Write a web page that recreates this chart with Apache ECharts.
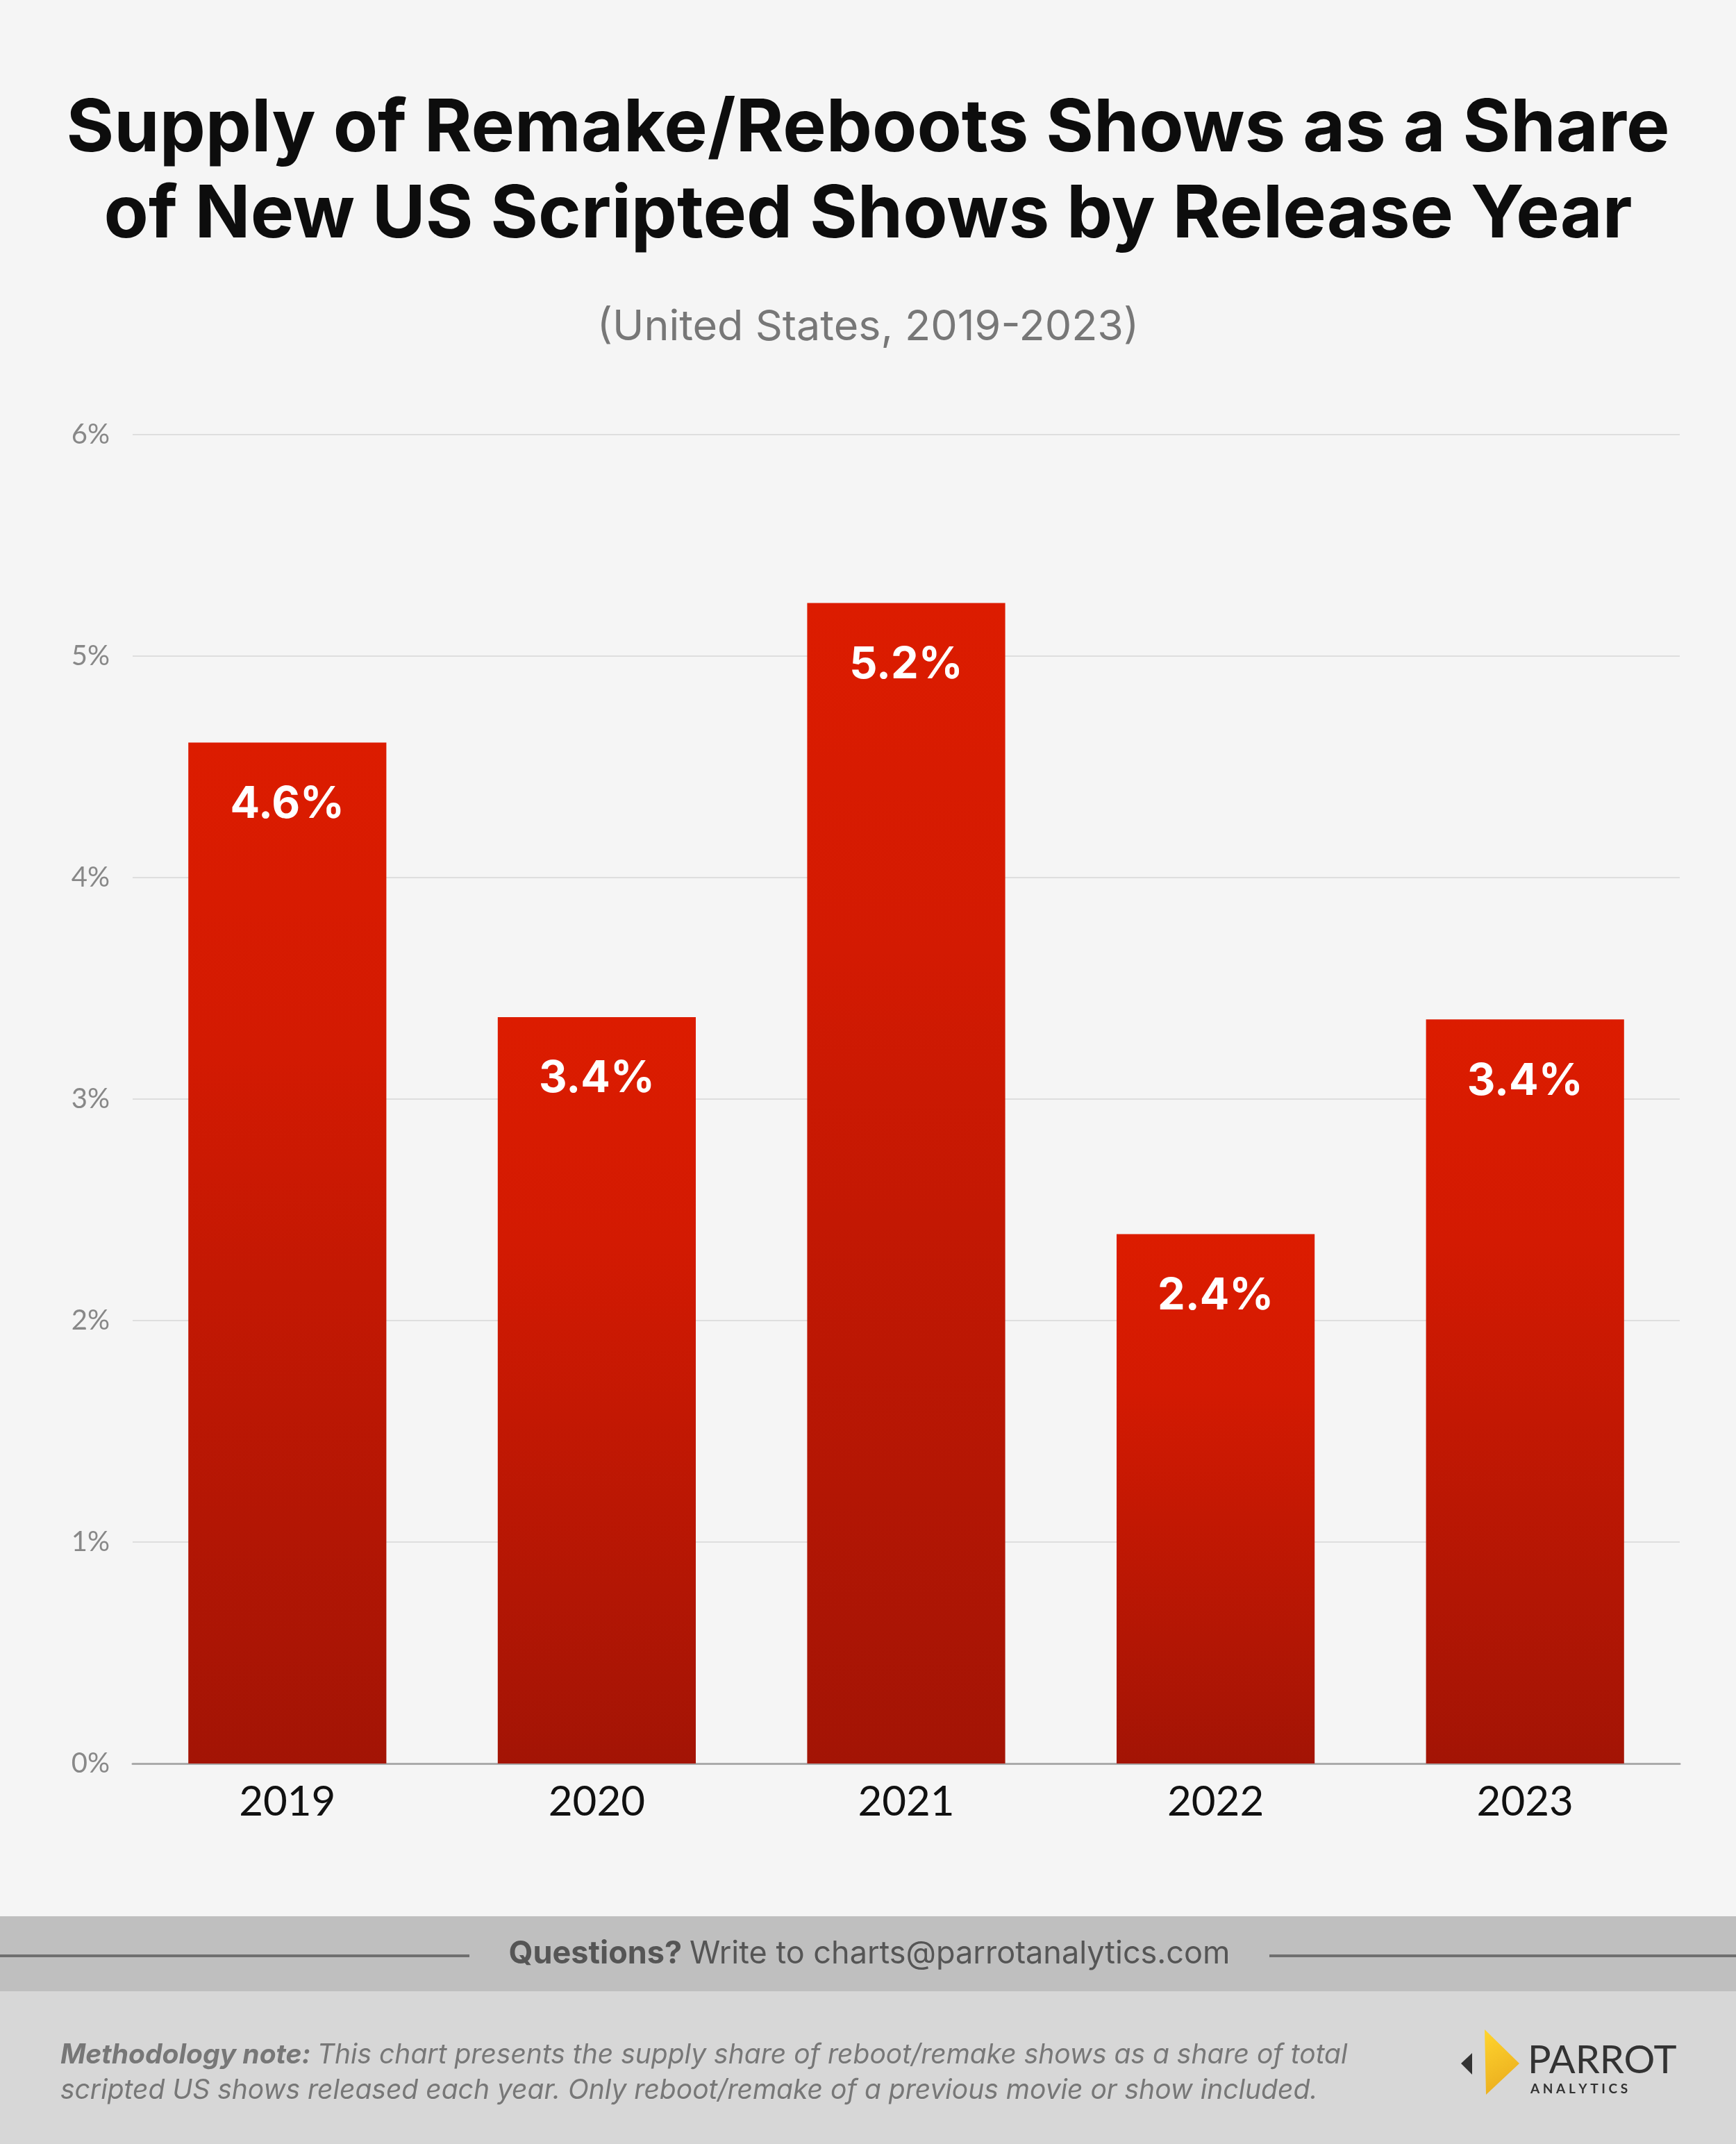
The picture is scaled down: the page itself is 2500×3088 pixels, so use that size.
<!DOCTYPE html>
<html>
<head>
<meta charset="utf-8">
<script src="https://cdn.jsdelivr.net/npm/echarts@6/dist/echarts.min.js"></script>
<style>
html,body{margin:0;padding:0;background:#f5f5f5;}
#chart{width:2500px;height:3088px;}
</style>
</head>
<body>
<div id="chart"></div>
<script>
var categories = ['2019', '2020', '2021', '2022', '2023'];
var shareValues = [4.61, 3.37, 5.24, 2.39, 3.36];
var yTicks = [0, 1, 2, 3, 4, 5, 6];

var titleText = 'Supply of Remake/Reboots Shows as a Share\nof New US Scripted Shows by Release Year';
var subtitleText = '(United States, 2019-2023)';

var FONT = 'Lato, "Open Sans", sans-serif';
var WIDE = 'Inter, "Open Sans", sans-serif';

var chart = echarts.init(document.getElementById('chart'), null, {renderer: 'canvas'});

var barGradient = new echarts.graphic.LinearGradient(0, 0, 0, 1, [
  {offset: 0, color: '#dc1c00'},
  {offset: 0.3, color: '#d31a02'},
  {offset: 1, color: '#a31405'}
]);

var logoGradient = new echarts.graphic.LinearGradient(0, 0, 1, 1, [
  {offset: 0, color: '#ffd52e'},
  {offset: 1, color: '#e8a81c'}
]);

var option = {
  backgroundColor: '#f5f5f5',
  animation: false,
  title: [
    {
      text: titleText,
      left: 'center',
      top: 119,
      textStyle: {
        fontFamily: WIDE,
        fontSize: 105,
        fontWeight: 'bold',
        color: '#0d0d0d',
        lineHeight: 124
      }
    },
    {
      text: subtitleText,
      left: 'center',
      top: 436,
      textStyle: {
        fontFamily: WIDE,
        fontSize: 61,
        fontWeight: 'normal',
        color: '#777777'
      }
    }
  ],
  grid: {
    left: 191,
    right: 81,
    top: 626,
    bottom: 548,
    containLabel: false
  },
  xAxis: {
    type: 'category',
    data: categories,
    axisLine: {show: true, lineStyle: {color: '#aaaaaa', width: 3}},
    axisTick: {show: false},
    axisLabel: {
      fontFamily: FONT,
      fontSize: 60,
      color: '#111111',
      margin: 26
    }
  },
  yAxis: {
    type: 'value',
    min: yTicks[0],
    max: yTicks[yTicks.length - 1],
    interval: 1,
    axisLine: {show: false},
    axisTick: {show: false},
    splitLine: {lineStyle: {color: '#dedede', width: 2}},
    axisLabel: {
      fontFamily: FONT,
      fontSize: 40,
      color: '#888888',
      margin: 33,
      formatter: function (v) { return v + '%'; }
    }
  },
  series: [{
    type: 'bar',
    data: shareValues,
    barWidth: '64%',
    itemStyle: {color: barGradient},
    label: {
      show: true,
      position: 'insideTop',
      distance: 58,
      fontFamily: WIDE,
      fontSize: 63,
      fontWeight: 'bold',
      color: '#ffffff',
      formatter: function (p) { return p.value.toFixed(1) + '%'; }
    }
  }],
  graphic: [
    {type: 'rect', z: 0, shape: {x: 0, y: 2760, width: 2500, height: 108}, style: {fill: '#bfbfbf'}},
    {type: 'rect', z: 0, shape: {x: 0, y: 2868, width: 2500, height: 220}, style: {fill: '#d7d7d7'}},
    {type: 'line', z: 1, shape: {x1: 0, y1: 2817, x2: 676, y2: 2817}, style: {stroke: '#6f6f6f', lineWidth: 4}},
    {type: 'line', z: 1, shape: {x1: 1828, y1: 2817, x2: 2500, y2: 2817}, style: {stroke: '#6f6f6f', lineWidth: 4}},
    {
      type: 'text', z: 2,
      style: {
        x: 1252, y: 2814,
        text: '{b|Questions? }{n|Write to charts@parrotanalytics.com}',
        textAlign: 'center', textVerticalAlign: 'middle',
        rich: {
          b: {fontFamily: WIDE, fontSize: 45, fontWeight: 'bold', fill: '#555555', color: '#555555'},
          n: {fontFamily: WIDE, fontSize: 45, fontWeight: 'normal', fill: '#555555', color: '#555555'}
        }
      }
    },
    {
      type: 'text', z: 2,
      style: {
        x: 87, y: 2960,
        text: '{b|Methodology note: }{n|This chart presents the supply share of reboot/remake shows as a share of total}',
        textAlign: 'left', textVerticalAlign: 'middle',
        rich: {
          b: {fontFamily: WIDE, fontSize: 39, fontWeight: 'bold', fontStyle: 'italic', fill: '#777777', color: '#777777'},
          n: {fontFamily: WIDE, fontSize: 39, fontStyle: 'italic', fill: '#777777', color: '#777777'}
        }
      }
    },
    {
      type: 'text', z: 2,
      style: {
        x: 87, y: 3011,
        text: 'scripted US shows released each year. Only reboot/remake of a previous movie or show included.',
        textAlign: 'left', textVerticalAlign: 'middle',
        font: 'italic 39px ' + WIDE,
        fill: '#777777'
      }
    },
    {type: 'polygon', z: 2, shape: {points: [[2120, 2957], [2120, 2988], [2104, 2972]]}, style: {fill: '#333333'}},
    {type: 'polygon', z: 2, shape: {points: [[2138, 2923], [2188, 2972], [2140, 3017]]}, style: {fill: logoGradient}},
    {
      type: 'text', z: 2,
      style: {x: 2200, y: 2968, text: 'PARROT', textAlign: 'left', textVerticalAlign: 'middle',
        font: 'normal 56px ' + FONT, fill: '#333333'}
    },
    {
      type: 'text', z: 2,
      style: {x: 2204, y: 3009, text: 'A N A L Y T I C S', textAlign: 'left', textVerticalAlign: 'middle',
        font: 'bold 19px ' + FONT, fill: '#333333'}
    }
  ]
};

chart.setOption(option);
</script>
</body>
</html>
